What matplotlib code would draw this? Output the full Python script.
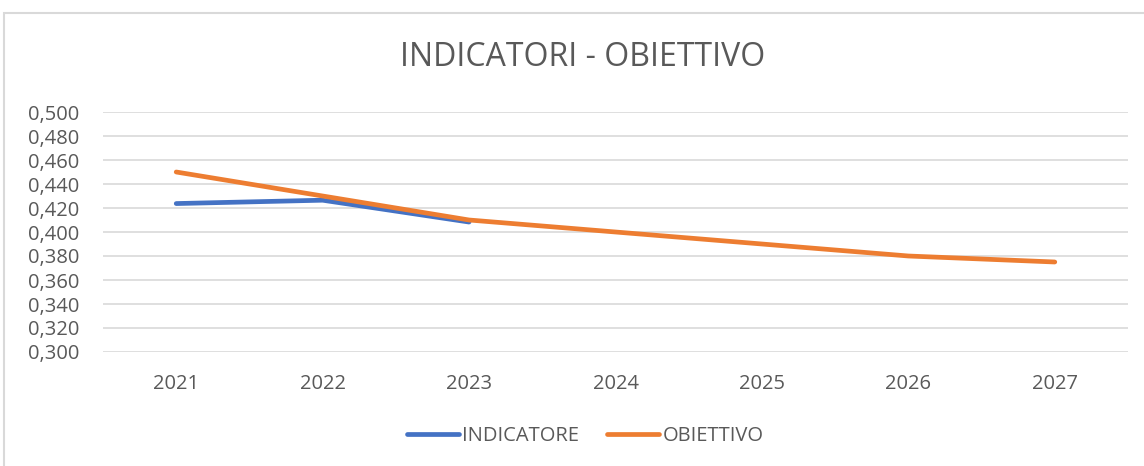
import matplotlib
matplotlib.use('Agg')
import matplotlib.pyplot as plt
from matplotlib.patches import Rectangle
from matplotlib.ticker import FuncFormatter
from matplotlib.lines import Line2D

years = ['2021', '2022', '2023', '2024', '2025', '2026', '2027']
indicatore = [0.4237, 0.4265, 0.4083]
obiettivo = [0.450, 0.430, 0.410, 0.400, 0.390, 0.380, 0.375]

blue = '#4472C4'
orange = '#ED7D31'
txt = '#595959'
grid = '#D9D9D9'

plt.rcParams['font.family'] = ['Open Sans', 'DejaVu Sans']

fig = plt.figure(figsize=(11.44, 4.66), dpi=100)
fig.patches.append(Rectangle((4 / 1144, -0.1), 1.2, 1 - 13 / 466 + 0.1,
                             transform=fig.transFigure, fill=False,
                             edgecolor=grid, linewidth=1.5))

ax = fig.add_axes([103 / 1144, 1 - 352 / 466, 1025 / 1144, 240 / 466])
x = list(range(len(years)))
ax.plot(x[:len(indicatore)], indicatore, color=blue, lw=3.4,
        solid_capstyle='round', solid_joinstyle='round', zorder=3)
ax.plot(x, obiettivo, color=orange, lw=3.4,
        solid_capstyle='round', solid_joinstyle='round', zorder=4)

ax.set_xlim(-0.5, len(years) - 0.5)
ax.set_ylim(0.3, 0.5)
ax.set_yticks([0.3 + 0.02 * i for i in range(11)])
ax.yaxis.set_major_formatter(FuncFormatter(lambda v, p: f'{v:.3f}'.replace('.', ',')))
ax.set_xticks(x)
ax.set_xticklabels(years)
ax.grid(axis='y', color=grid, lw=1.2)
ax.set_axisbelow(True)
for s in ax.spines.values():
    s.set_visible(False)
ax.tick_params(length=0, labelsize=14.5, colors=txt)
ax.tick_params(axis='x', pad=16)
ax.tick_params(axis='y', pad=17)

fig.text(583 / 1144, 1 - 57 / 466, 'INDICATORI - OBIETTIVO', ha='center', va='center',
         fontsize=23, color=txt)

handles = [Line2D([], [], color=blue, lw=3.4, solid_capstyle='round'),
           Line2D([], [], color=orange, lw=3.4, solid_capstyle='round')]
leg = fig.legend(handles, ['INDICATORE', 'OBIETTIVO'], loc='center',
                 bbox_to_anchor=(585 / 1144, 1 - 436 / 466), ncol=2, frameon=False,
                 fontsize=14.5, handlelength=2.6, handletextpad=0.15, columnspacing=1.4)
for t in leg.get_texts():
    t.set_color(txt)

fig.savefig('out.png', dpi=100)
